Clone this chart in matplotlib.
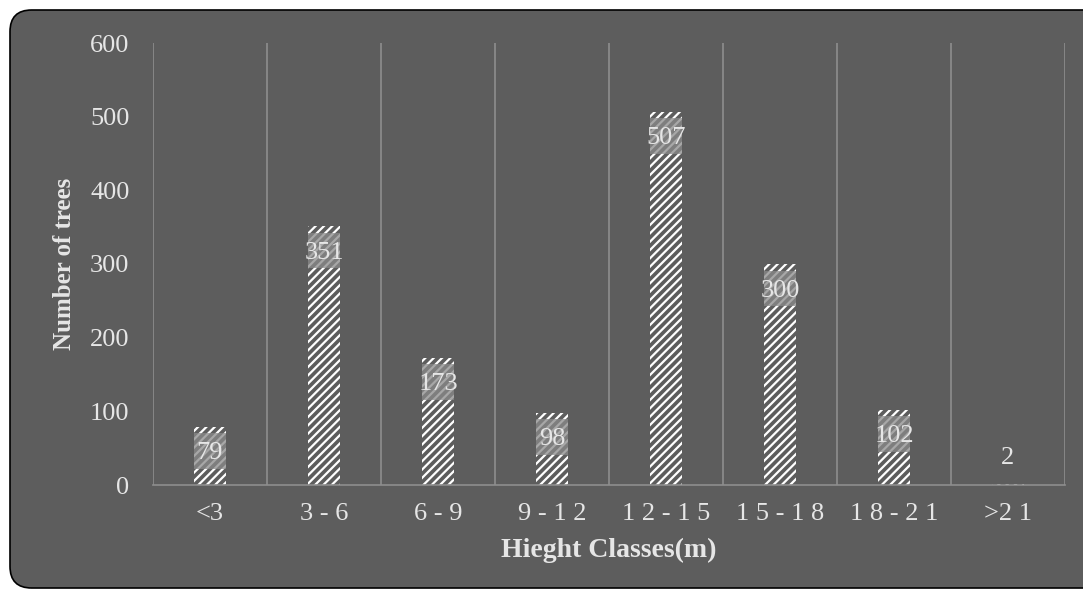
import matplotlib.pyplot as plt
import numpy as np
from matplotlib.patches import FancyBboxPatch

# data
classes = ['<3', '3 - 6', '6 - 9', '9 - 1 2', '1 2 - 1 5', '1 5 - 1 8', '1 8 - 2 1', '>2 1']
trees = [79, 351, 173, 98, 507, 300, 102, 2]

bg = '#5d5d5d'
txt = '#e6e6e6'
plt.rcParams['font.family'] = ['Liberation Serif', 'DejaVu Serif']
plt.rcParams['hatch.linewidth'] = 1.6
plt.rcParams['hatch.color'] = 'white'

fig = plt.figure(figsize=(10.83, 5.9), dpi=100)
fig.patch.set_facecolor('white')
# rounded dark panel
panel = FancyBboxPatch((10 / 1083, 2 / 590), 1.05, 1 - 12 / 590, boxstyle='round,pad=0,rounding_size=0.02',
                       transform=fig.transFigure, facecolor=bg, edgecolor='black', linewidth=1.2,
                       mutation_aspect=1083 / 590, zorder=-5)
fig.patches.append(panel)

ax = fig.add_axes([153 / 1083, 1 - 485 / 590, (1065 - 153) / 1083, (485 - 43) / 590])
ax.set_facecolor(bg)
ax.patch.set_alpha(0)
x = np.arange(len(classes))
ax.bar(x, trees, width=0.28, color=bg, edgecolor='white', hatch='////', linewidth=0)

# label boxes
for xi, v in zip(x, trees):
    if v > 60:
        ax.bar(xi, 48, bottom=v - 57, width=0.28, color='#8a8a8a', alpha=0.75, linewidth=0)
        ax.text(xi, v - 36, str(v), ha='center', va='center', color=txt, fontsize=19)
    else:
        ax.text(xi, v + 20, str(v), ha='center', va='bottom', color=txt, fontsize=19)

ax.set_xlim(-0.5, len(classes) - 0.5)
ax.set_ylim(0, 600)
ax.set_yticks(range(0, 601, 100))
ax.set_xticks(x)
ax.set_xticklabels(classes)
for xb in np.arange(-0.5, len(classes) + 0.5, 1):
    ax.axvline(xb, color='#8e8e8e', linewidth=1.2, zorder=0)
for s in ['top', 'right', 'left']:
    ax.spines[s].set_visible(False)
ax.spines['bottom'].set_color('#8e8e8e')
ax.spines['bottom'].set_linewidth(1.2)
ax.tick_params(axis='both', length=0, colors=txt, labelsize=19)
ax.tick_params(axis='y', pad=17)
ax.tick_params(axis='x', pad=13)
ax.set_ylabel('Number of trees', fontsize=18, fontweight='bold', color=txt, labelpad=10)
ax.set_xlabel('Hieght Classes(m)', fontsize=20, fontweight='bold', color=txt, labelpad=9)

fig.savefig('out.png', dpi=100)
